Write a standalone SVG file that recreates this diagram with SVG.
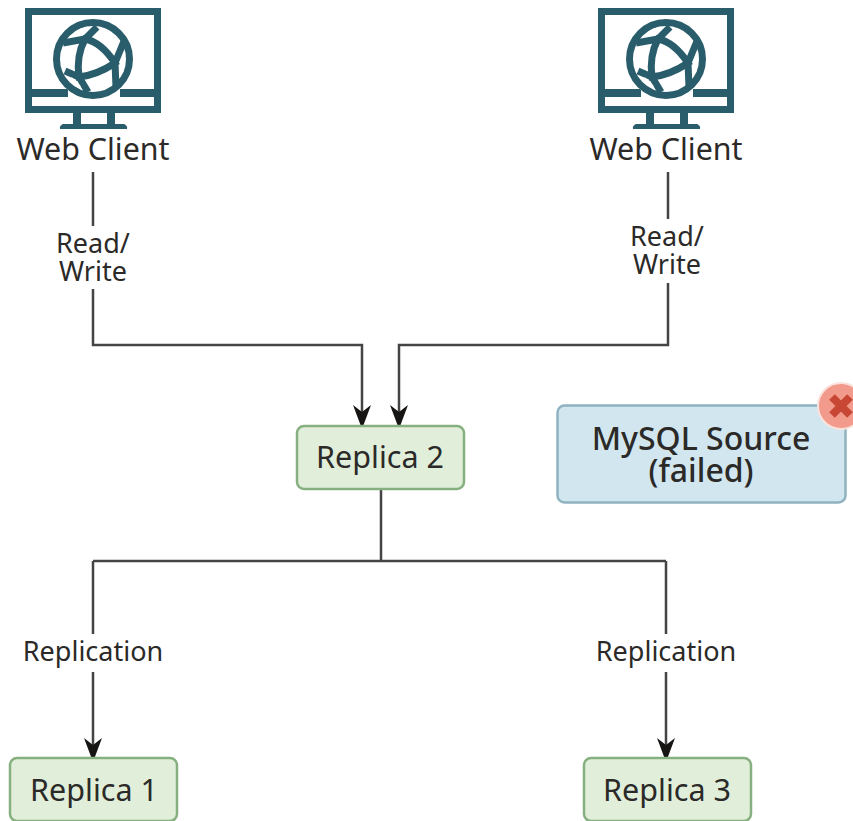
<svg xmlns="http://www.w3.org/2000/svg" width="853" height="821" viewBox="0 0 853 821">
<style>
text{font-family:"Noto Sans","Open Sans","Liberation Sans",sans-serif;text-anchor:middle;fill:#2b2a28}
.big{font-size:30.500px}
.src{font-size:32px;font-weight:500}
.lab{font-size:27px}
.w{font-size:30.400px}
.g{fill:#e1efda;stroke:#86b07f;stroke-width:2.500}
.c{fill:none;stroke:#444;stroke-width:2.500}
.i{fill:none;stroke:#2a5d6b;stroke-width:7}
.ih{fill:#2a5d6b}
.sl{fill:none;stroke:#fff;stroke-width:2.500}
</style>
<defs>
<marker id="a" markerUnits="userSpaceOnUse" markerWidth="20" markerHeight="18" refX="19" refY="9" orient="auto" viewBox="0 0 20 18"><path d="M0,0 L7,9 L0,18 L20,10.500 V7.500Z" fill="#161513"/></marker>
<g id="mon">
<rect class="i" x="28.500" y="11.500" width="129" height="98"/>
<path class="ih" d="M28,89H68V97H28ZM120,89H158V97H120ZM73,112H81V125H73ZM107,112H115V125H107ZM63,124H124Q128,126 127,129H60Q59,126 63,124Z"/>
<circle cx="93" cy="59" r="40" fill="#fff"/>
<circle class="i" cx="93" cy="59" r="36.500"/>
<path class="i" d="M85,39Q101,42 115,63Q97,75 79,77Q76,56 85,39ZM85,39L97,27M115,63L124,41M79,77L65,71M85,39L63,43M79,77L88,92M115,63L116,87"/>
<path class="sl" d="M76,33Q81,29 88,28M123,58Q124,65 122,72M71,78Q75,83 80,87"/>
</g>
</defs>
<g id="connectors">
<path class="c" d="M93,172V226M93,289V345H362V424" marker-end="url(#a)"/>
<path class="c" d="M668,172V219M668,283V345H399V424" marker-end="url(#a)"/>
<path class="c" d="M381,490V561M93,561H666"/>
<path class="c" d="M93,561V634M93,672V757" marker-end="url(#a)"/>
<path class="c" d="M666,561V634M666,672V757" marker-end="url(#a)"/>
</g>
<g id="client1"><use href="#mon"/><text class="w" x="93" y="160">Web Client</text></g>
<g id="client2"><use href="#mon" x="573"/><text class="w" x="666" y="160">Web Client</text></g>
<g id="label-rw1"><text class="lab" x="93" y="253">Read/<tspan x="93" dy="28">Write</tspan></text></g>
<g id="label-rw2"><text class="lab" x="667" y="246">Read/<tspan x="667" dy="28">Write</tspan></text></g>
<g id="label-rep1"><text class="lab" x="93" y="661">Replication</text></g>
<g id="label-rep3"><text class="lab" x="666" y="661">Replication</text></g>
<g id="replica2"><rect class="g" x="297" y="426" width="167" height="63" rx="7"/><text class="big" x="380" y="468">Replica 2</text></g>
<g id="replica1"><rect class="g" x="10" y="758" width="167" height="63" rx="7"/><text class="big" x="94" y="801">Replica 1</text></g>
<g id="replica3"><rect class="g" x="584" y="758" width="167" height="63" rx="7"/><text class="big" x="667" y="801">Replica 3</text></g>
<g id="source"><rect x="557.500" y="405.500" width="288" height="97" rx="7" fill="#d2e6ef" stroke="#8fb3c0" stroke-width="2.500"/>
<text class="src" x="701" y="450">MySQL Source<tspan x="701" dy="32">(failed)</tspan></text></g>
<g id="failed"><circle cx="841" cy="406" r="23" fill="#f29a8b" stroke="#fbe3dd" stroke-width="2"/><path d="M832,397L850,415M850,397L832,415" stroke="#c74634" stroke-width="8" fill="none"/></g>
</svg>
